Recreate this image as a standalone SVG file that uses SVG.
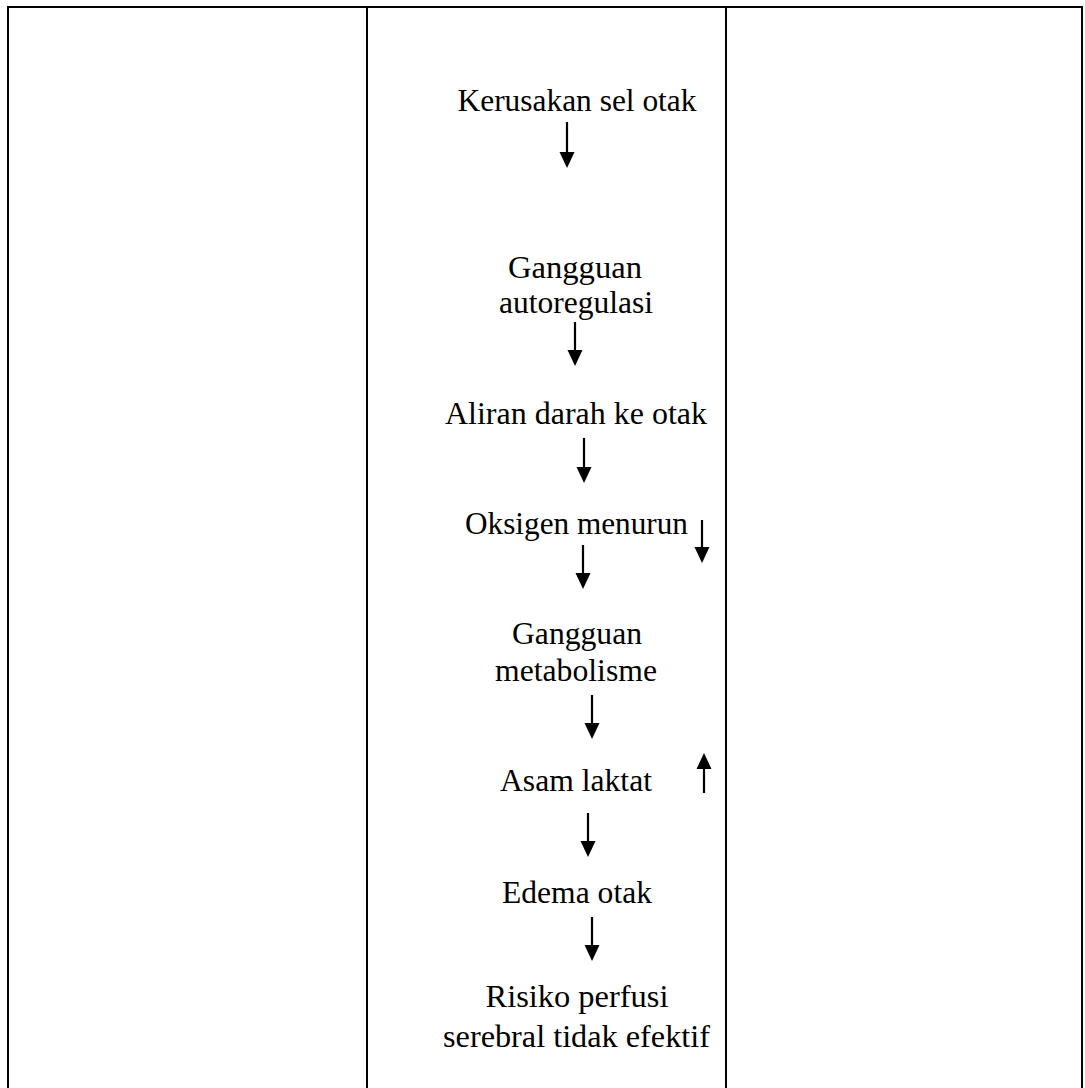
<svg xmlns="http://www.w3.org/2000/svg" width="1085" height="1088" viewBox="0 0 1085 1088">
<defs>
<style>
.t{font-family:"Liberation Serif","Times New Roman",serif;font-size:31px;fill:#000;text-anchor:middle}
.grid{stroke:#000;stroke-width:2;fill:none}
.c{stroke:#000;stroke-width:2.2;fill:none}
.h{fill:#000}
</style>
</defs>
<rect width="1085" height="1088" fill="#fff"/>
<g id="table" class="grid">
<line x1="7" y1="7" x2="1083" y2="7"/>
<line x1="8" y1="6" x2="8" y2="1088"/>
<line x1="367" y1="6" x2="367" y2="1088"/>
<line x1="726" y1="6" x2="726" y2="1088"/>
<line x1="1082" y1="6" x2="1082" y2="1088"/>
</g>
<g id="n1"><text class="t" x="577" y="111" textLength="239" lengthAdjust="spacingAndGlyphs">Kerusakan sel otak</text></g>
<g id="n2"><text class="t" x="575" y="278" textLength="134" lengthAdjust="spacingAndGlyphs">Gangguan</text><text class="t" x="576" y="313" textLength="154" lengthAdjust="spacingAndGlyphs">autoregulasi</text></g>
<g id="n3"><text class="t" x="576" y="424" textLength="262" lengthAdjust="spacingAndGlyphs">Aliran darah ke otak</text></g>
<g id="n4"><text class="t" x="576.5" y="534" textLength="223" lengthAdjust="spacingAndGlyphs">Oksigen menurun</text></g>
<g id="n5"><text class="t" x="577" y="644" textLength="130" lengthAdjust="spacingAndGlyphs">Gangguan</text><text class="t" x="576" y="681" textLength="162" lengthAdjust="spacingAndGlyphs">metabolisme</text></g>
<g id="n6"><text class="t" x="576" y="791" textLength="152" lengthAdjust="spacingAndGlyphs">Asam laktat</text></g>
<g id="n7"><text class="t" x="577" y="903" textLength="150" lengthAdjust="spacingAndGlyphs">Edema otak</text></g>
<g id="n8"><text class="t" x="577" y="1007" textLength="183" lengthAdjust="spacingAndGlyphs">Risiko perfusi</text><text class="t" x="576.5" y="1047" textLength="267" lengthAdjust="spacingAndGlyphs">serebral tidak efektif</text></g>
<g id="connectors">
<line class="c" x1="567" y1="122" x2="567" y2="153"/><polygon class="h" points="559.5,152 574.5,152 567,168"/>
<line class="c" x1="575" y1="322" x2="575" y2="351"/><polygon class="h" points="567.5,350 582.5,350 575,366"/>
<line class="c" x1="584" y1="438" x2="584" y2="468"/><polygon class="h" points="576.5,467 591.5,467 584,483"/>
<line class="c" x1="583" y1="545" x2="583" y2="574"/><polygon class="h" points="575.5,573 590.5,573 583,589"/>
<line class="c" x1="702" y1="520" x2="702" y2="548"/><polygon class="h" points="694.5,547 709.5,547 702,563"/>
<line class="c" x1="592" y1="695" x2="592" y2="724"/><polygon class="h" points="584.5,723 599.5,723 592,739"/>
<line class="c" x1="704" y1="793" x2="704" y2="768"/><polygon class="h" points="696.5,769 711.5,769 704,753"/>
<line class="c" x1="588" y1="813" x2="588" y2="842"/><polygon class="h" points="580.5,841 595.5,841 588,857"/>
<line class="c" x1="592" y1="917" x2="592" y2="946"/><polygon class="h" points="584.5,945 599.5,945 592,961"/>
</g>
</svg>
